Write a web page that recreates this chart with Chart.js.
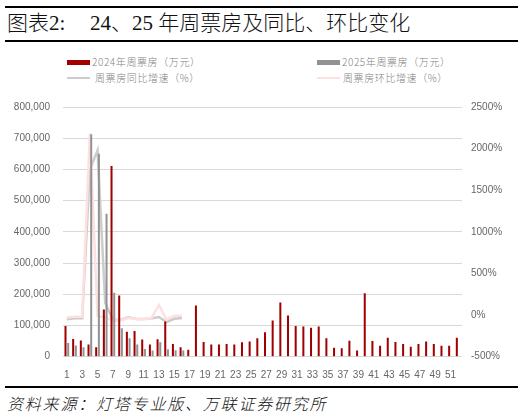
<!DOCTYPE html>
<html lang="zh">
<head>
<meta charset="UTF-8">
<title>24、25年周票房及同比、环比变化</title>
<script src="https://cdn.jsdelivr.net/npm/chart.js@4.4.0/dist/chart.umd.min.js"></script>
<style>
    body { margin: 0; width: 523px; height: 419px; background: #fff; position: relative; overflow: hidden; font-family: "Noto Sans CJK SC", sans-serif; }
    .rule { position: absolute; left: 5px; width: 513px; height: 2px; background: #000; }
    .title { position: absolute; top: 13px; font-size: 21px; line-height: 21px; color: #111; font-weight: 300; font-family: "Liberation Serif", "Noto Sans CJK SC", serif; white-space: nowrap; }
    .legend-text { position: absolute; font-size: 10px; line-height: 12px; color: #808080; letter-spacing: 0.6px; font-weight: 300; white-space: nowrap; }
    .swatch { position: absolute; }
    .source { position: absolute; left: 7px; top: 395px; font-size: 16px; line-height: 16px; font-style: italic; font-weight: 300; letter-spacing: 1.8px; color: #111; white-space: nowrap; }
    #wrap { position: absolute; left: 0; top: 88px; width: 523px; height: 292px; }
</style>
</head>
<body>
<div class="rule" style="top:6px"></div>
<div class="title" style="left:7px">图表2:</div>
<div class="title" style="left:90px">24、25 年周票房及同比、环比变化</div>
<div class="rule" style="top:40px"></div>

<div class="swatch" style="left:67px;top:60px;width:23px;height:5px;background:#A00000"></div>
<div class="legend-text" style="left:92px;top:56px">2024年周票房（万元）</div>
<div class="swatch" style="left:317px;top:60px;width:23px;height:5px;background:#929292"></div>
<div class="legend-text" style="left:342px;top:56px">2025年周票房（万元）</div>
<div class="swatch" style="left:67px;top:77px;width:23px;height:2px;background:#CCCCCC"></div>
<div class="legend-text" style="left:95px;top:72px">周票房同比增速（%）</div>
<div class="swatch" style="left:317px;top:77px;width:23px;height:2px;background:#FFE0E0"></div>
<div class="legend-text" style="left:343px;top:72px">周票房环比增速（%）</div>

<div id="wrap"><canvas id="chart" width="523" height="292"></canvas></div>

<div class="rule" style="top:386px"></div>
<div class="source">资料来源：灯塔专业版、万联证券研究所</div>

<script>
const weeks = [];
for (let i = 1; i <= 52; i++) weeks.push(String(i));

// 周票房（万元）
const box2024 = [98000, 57000, 52000, 39000, 30000, 151000, 611000, 196000, 80000, 82000,
                 55000, 39000, 56000, 113000, 41000, 30000, 22000, 164000, 47000, 39000,
                 39000, 41000, 39000, 46000, 49000, 59000, 78000, 116000, 174000, 132000,
                 98000, 97000, 93000, 97000, 59000, 29000, 27000, 51000, 20000, 203000,
                 50000, 35000, 61000, 47000, 41000, 32000, 41000, 49000, 41000, 35000,
                 35000, 61000];
const box2025 = [44000, 36000, 30000, 713000, 650000, 458000, 205000, 91000, 59000, 39000,
                 25000, 20000, 46000, 24000, 21000, 20000];

// 增速（%）
const yoyGrowth = [-50, -39, -39, 1750, 1980, 150, -58, -58, -27, -47, -47, -42, -23, -83, -45, -35];
const momGrowth = [-30, -19, -19, 2180, -10, -28, -64, -64, -35, -47, -47, -40, 120, -55, -8, -8];

const tickFont = { family: "Liberation Sans", size: 10 };
const tickColor = "#666666";

new Chart(document.getElementById("chart").getContext("2d"), {
    type: "bar",
    data: {
        labels: weeks,
        datasets: [
            {
                label: "2024年周票房（万元）",
                data: box2024,
                backgroundColor: "#A00000",
                yAxisID: "y",
                categoryPercentage: 0.7,
                barPercentage: 0.75
            },
            {
                label: "2025年周票房（万元）",
                data: box2025,
                backgroundColor: "#929292",
                yAxisID: "y",
                categoryPercentage: 0.7,
                barPercentage: 0.75
            },
            {
                type: "line",
                label: "周票房环比增速（%）",
                data: momGrowth,
                borderColor: "#FFE0E0",
                borderWidth: 2.5,
                pointRadius: 0,
                tension: 0,
                yAxisID: "y1"
            },
            {
                type: "line",
                label: "周票房同比增速（%）",
                data: yoyGrowth,
                borderColor: "#CCCCCC",
                borderWidth: 2.5,
                pointRadius: 0,
                tension: 0,
                yAxisID: "y1"
            }
        ]
    },
    options: {
        responsive: false,
        animation: false,
        layout: { padding: { top: 11, left: 0, right: 0, bottom: 0 } },
        plugins: { legend: { display: false }, tooltip: { enabled: false } },
        scales: {
            x: {
                grid: { display: false },
                border: { display: false },
                ticks: {
                    autoSkip: false,
                    maxRotation: 0,
                    minRotation: 0,
                    padding: 5,
                    font: tickFont,
                    color: tickColor,
                    callback: function (value, index) {
                        return index % 2 === 0 ? weeks[index] : "";
                    }
                },
                afterFit: function (scale) { scale.height = 23.3; }
            },
            y: {
                position: "left",
                min: 0,
                max: 800000,
                grid: { color: "#D9D9D9", drawTicks: false },
                border: { display: false },
                ticks: {
                    stepSize: 100000,
                    padding: 13,
                    font: tickFont,
                    color: tickColor,
                    callback: function (v) { return v.toLocaleString("en-US"); }
                },
                afterFit: function (scale) { scale.width = 63; }
            },
            y1: {
                position: "right",
                min: -500,
                max: 2500,
                grid: { display: false, drawTicks: false },
                border: { display: false },
                ticks: {
                    stepSize: 500,
                    padding: 9,
                    font: tickFont,
                    color: tickColor,
                    callback: function (v) { return v + "%"; }
                },
                afterFit: function (scale) { scale.width = 61; }
            }
        }
    }
});
</script>
</body>
</html>
